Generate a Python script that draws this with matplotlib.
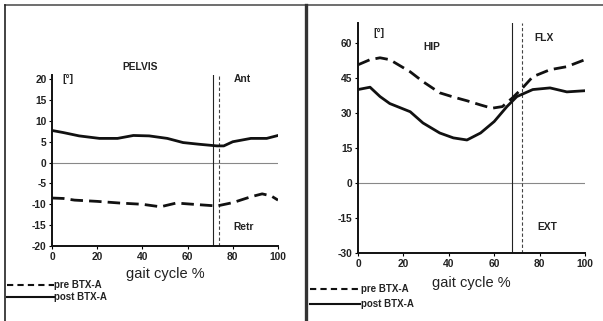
import matplotlib
matplotlib.use("Agg")
import matplotlib.pyplot as plt
from matplotlib.lines import Line2D

plt.rcParams['font.family'] = ['Liberation Sans', 'DejaVu Sans']
plt.rcParams['axes.unicode_minus'] = False

# Pelvis data
pelvis_x_post = [0, 5, 12, 21, 29, 36, 43, 51, 58, 65, 73, 76, 80, 88, 95, 100]
pelvis_post = [7.7, 7.2, 6.4, 5.8, 5.8, 6.5, 6.4, 5.8, 4.8, 4.4, 4.0, 4.0, 5.0, 5.8, 5.8, 6.5]
pelvis_x_pre = [0, 5, 10, 20, 30, 40, 48, 55, 65, 73, 80, 88, 93, 97, 100]
pelvis_pre = [-8.5, -8.6, -9.0, -9.3, -9.7, -10.0, -10.6, -9.7, -10.1, -10.4, -9.6, -8.2, -7.5, -8.0, -9.0]
pelvis_toeoff = [71.2, 74.0]  # post (solid), pre (dashed)

# Hip data
hip_x_post = [0, 5.3, 9.7, 14, 23, 28.6, 36, 42, 48, 54, 60, 65.6, 70, 77, 84.6, 92, 100]
hip_post = [40, 41, 37, 34, 30.5, 25.7, 21.4, 19.3, 18.4, 21.4, 26.3, 32.7, 37, 40, 40.7, 39, 39.5]
hip_x_pre = [0, 5.3, 9.7, 14, 23, 28.6, 36, 42, 48, 54, 59, 63.6, 68, 72.5, 77, 84.6, 92, 100]
hip_pre = [50.6, 52.8, 53.6, 52.8, 47.6, 43.4, 38.6, 36.8, 35.2, 33.4, 32, 32.7, 36.4, 40.7, 45.5, 48.5, 49.8, 52.8]
hip_toeoff = [67.8, 72.2]

xticks = [0, 20, 40, 60, 80, 100]
pelvis_yticks = [-20, -15, -10, -5, 0, 5, 10, 15, 20]
hip_yticks = [-30, -15, 0, 15, 30, 45, 60]

W, H = 603, 321
fig = plt.figure(figsize=(W / 100, H / 100), dpi=100)

def ax_rect(l, r, t, b):
    return [l / W, 1 - b / H, (r - l) / W, (b - t) / H]

dash = (0, (4.5, 2.2))

def setup(ax, ylim, yticks, labelpad):
    ax.set_xlim(0, 100)
    ax.set_ylim(*ylim)
    ax.set_xticks(xticks)
    ax.set_yticks(yticks)
    for s in ['top', 'right']:
        ax.spines[s].set_visible(False)
    for s in ['left', 'bottom']:
        ax.spines[s].set_linewidth(1.4)
        ax.spines[s].set_color('#111111')
    ax.tick_params(length=2, width=0.8, pad=2, labelsize=7.4)
    for lab in ax.get_xticklabels() + ax.get_yticklabels():
        lab.set_fontweight('bold')
        lab.set_color('#222222')
    ax.axhline(0, color='#888888', lw=0.8, zorder=1)
    ax.set_xlabel('gait cycle %', fontsize=10.5, labelpad=labelpad, color='#222222')

# Left: pelvis
ax1 = fig.add_axes(ax_rect(52, 278, 75, 246))
setup(ax1, (-20, 21), pelvis_yticks, 4)
ax1.axvline(pelvis_toeoff[0], color='#222222', lw=0.8)
ax1.axvline(pelvis_toeoff[1], color='#444444', lw=0.8, ls=(0, (3, 2)))
ax1.plot(pelvis_x_post, pelvis_post, color='#111111', lw=2.0)
ax1.plot(pelvis_x_pre, pelvis_pre, color='#111111', lw=2.0, ls=dash)

# Right: hip
ax2 = fig.add_axes(ax_rect(358, 585, 23, 253))
setup(ax2, (-30, 68.5), hip_yticks, 5)
ax2.axvline(hip_toeoff[0], color='#222222', lw=0.8)
ax2.axvline(hip_toeoff[1], color='#444444', lw=0.8, ls=(0, (3, 2)))
ax2.plot(hip_x_post, hip_post, color='#111111', lw=2.0)
ax2.plot(hip_x_pre, hip_pre, color='#111111', lw=2.0, ls=dash)

def ftext(x, y, s, size=7.4, weight='bold', ha='left'):
    fig.text(x / W, 1 - y / H, s, fontsize=size, fontweight=weight, ha=ha, va='center', color='#222222')

ftext(140, 67, 'PELVIS', ha='center')
ftext(62, 79, '[°]')
ftext(234, 79, 'Ant')
ftext(233, 227, 'Retr')
ftext(373, 33, '[°]')
ftext(432, 47, 'HIP', ha='center')
ftext(534, 38, 'FLX')
ftext(537, 227, 'EXT')

# Legends drawn in figure coordinates
def fline(x0, x1, y, ls):
    fig.add_artist(Line2D([x0 / W, x1 / W], [1 - y / H, 1 - y / H], color='#111111', lw=1.5, ls=ls))

fline(7, 54, 285, (0, (3, 2)))
ftext(54, 285, 'pre BTX-A', size=7)
fline(7, 54, 297, '-')
ftext(54, 297, 'post BTX-A', size=7)
fline(310, 360, 289, (0, (3, 2)))
ftext(361, 289, 'pre BTX-A', size=7)
fline(310, 360, 304, '-')
ftext(361, 304, 'post BTX-A', size=7)

# Panel borders
fig.add_artist(Line2D([5 / W, 1], [1 - 5 / H, 1 - 5 / H], color='#555555', lw=1.2))
fig.add_artist(Line2D([5 / W, 5 / W], [0, 1 - 5 / H], color='#222222', lw=1.2))
fig.add_artist(Line2D([305.5 / W, 305.5 / W], [0, 1 - 5 / H], color='#333333', lw=2.4))

fig.savefig('out.png', dpi=100, facecolor='white')
